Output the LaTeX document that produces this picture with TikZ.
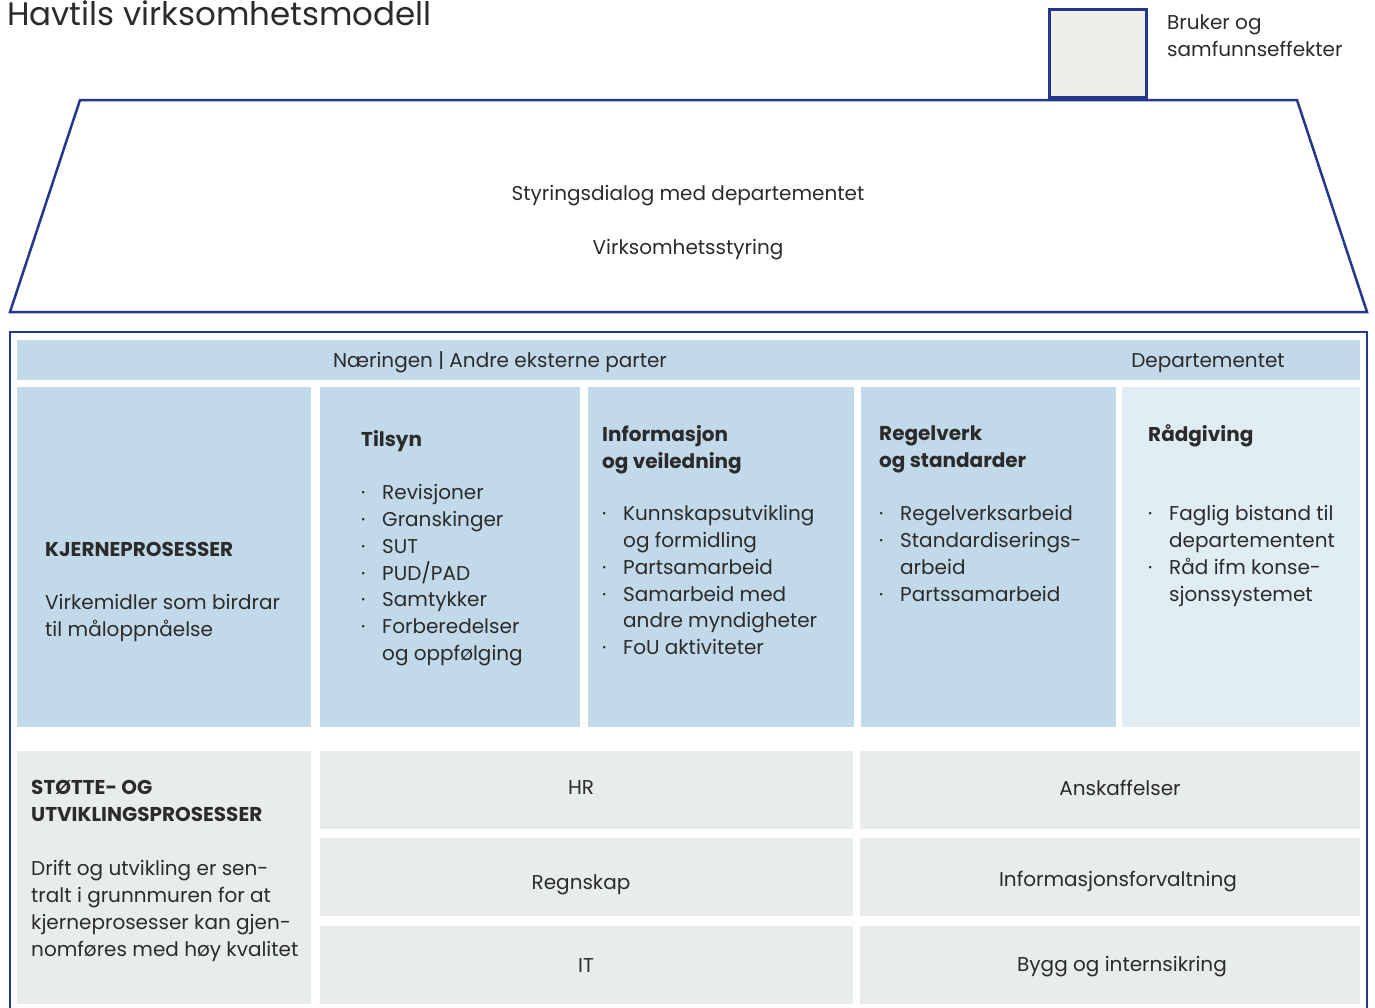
\documentclass[tikz,border=0pt]{standalone}
\usepackage{fontspec}
\setmainfont{Poppins}
\definecolor{navy}{RGB}{35,56,140}
\definecolor{ink}{RGB}{43,43,43}
\definecolor{coreblue}{RGB}{193,217,232}
\definecolor{paleblue}{RGB}{225,237,245}
\definecolor{supgray}{RGB}{232,236,237}
\definecolor{pipegray}{RGB}{239,238,234}
\newcommand{\blt}{\makebox[21pt][l]{·}}
\newcommand{\ind}{\hspace*{21pt}}
\begin{document}
\begin{tikzpicture}[x=1pt,y=-1pt,
  every node/.style={text=ink,font=\fontsize{20}{26.8}\selectfont,inner sep=0pt},
  cell/.style={rectangle,inner sep=0pt,outer sep=0pt},
  txt/.style={anchor=north west,align=left,yshift=14.8pt,execute at begin node=\strut},
  head/.style={txt,font=\fontsize{20}{26.8}\selectfont\bfseries}]
  \useasboundingbox (0,0) rectangle (1375,1007);

  % title and chimney
  \node (title) at (7,25) [anchor=base west,font=\fontsize{32.5}{36}\selectfont] {Havtils virksomhetsmodell};
  \draw[navy,line width=2.5pt,line join=miter] (80,100) -- (1297,100) -- (1367,312) -- (10,312) -- cycle;
  \node (pipe) at (1098,53.5) [cell,draw=navy,fill=pipegray,line width=2.5pt,minimum width=97pt,minimum height=88pt] {};
  \node (effekt) at (1167,29) [txt] {Bruker og\\samfunnseffekter};
  \node (styr1) at (688,200) [anchor=base] {Styringsdialog med departementet};
  \node (styr2) at (688,254) [anchor=base] {Virksomhetsstyring};

  % house frame
  \draw[navy,line width=2.5pt] (10,1015) -- (10,332) -- (1367,332) -- (1367,1015);

  % top band
  \node (band) at (688.5,360) [cell,fill=coreblue,minimum width=1343pt,minimum height=40pt] {};
  \node (ext) at (500,367) [anchor=base] {Næringen | Andre eksterne parter};
  \node (dep) at (1208,367) [anchor=base] {Departementet};

  % core processes
  \node (kjerne) at (164,557) [cell,fill=coreblue,minimum width=294pt,minimum height=340pt] {};
  \node (tilsyn) at (450,557) [cell,fill=coreblue,minimum width=260pt,minimum height=340pt] {};
  \node (info) at (721,557) [cell,fill=coreblue,minimum width=266pt,minimum height=340pt] {};
  \node (regel) at (988.5,557) [cell,fill=coreblue,minimum width=255pt,minimum height=340pt] {};
  \node (raad) at (1241,557) [cell,fill=paleblue,minimum width=238pt,minimum height=340pt] {};

  \node (kjerneH) at (45,552) [head] {KJERNEPROSESSER};
  \node (kjerneT) at (45,609) [txt] {Virkemidler som birdrar\\til måloppnåelse};

  \node (tilsynH) at (361,442) [head] {Tilsyn};
  \node (tilsynT) at (361,499) [txt] {\blt Revisjoner\\\blt Granskinger\\\blt SUT\\\blt PUD/PAD\\\blt Samtykker\\\blt Forberedelser\\\ind og oppfølging};

  \node (infoH) at (602,440) [head] {Informasjon\\og veiledning};
  \node (infoT) at (602,520) [txt] {\blt Kunnskapsutvikling\\\ind og formidling\\\blt Partsamarbeid\\\blt Samarbeid med\\\ind andre myndigheter\\\blt FoU aktiviteter};

  \node (regelH) at (879,440) [head] {Regelverk\\og standarder};
  \node (regelT) at (879,520) [txt] {\blt Regelverksarbeid\\\blt Standardiserings-\\\ind arbeid\\\blt Partssamarbeid};

  \node (raadH) at (1148,437) [head] {Rådgiving};
  \node (raadT) at (1148,520) [txt] {\blt Faglig bistand til\\\ind departementent\\\blt Råd ifm konse-\\\ind sjonssystemet};

  % support processes
  \node (stotte) at (164,877.5) [cell,fill=supgray,minimum width=294pt,minimum height=253pt] {};
  \node (stotteH) at (31,795) [head] {STØTTE- OG\\UTVIKLINGSPROSESSER};
  \node (stotteT) at (31,875) [txt] {Drift og utvikling er sen-\\tralt i grunnmuren for at\\kjerneprosesser kan gjen-\\nomføres med høy kvalitet};

  \node (hr) at (586.5,790) [cell,fill=supgray,minimum width=533pt,minimum height=78pt] {};
  \node (ansk) at (1110,790) [cell,fill=supgray,minimum width=500pt,minimum height=78pt] {};
  \node (regn) at (586.5,877) [cell,fill=supgray,minimum width=533pt,minimum height=78pt] {};
  \node (infof) at (1110,877) [cell,fill=supgray,minimum width=500pt,minimum height=78pt] {};
  \node (it) at (586.5,965) [cell,fill=supgray,minimum width=533pt,minimum height=78pt] {};
  \node (bygg) at (1110,965) [cell,fill=supgray,minimum width=500pt,minimum height=78pt] {};
  \node (hrT) at (581,788) {HR};
  \node (anskT) at (1120,788) {Anskaffelser};
  \node (regnT) at (581,885) {Regnskap};
  \node (infofT) at (1118,882) {Informasjonsforvaltning};
  \node (itT) at (586,966) {IT};
  \node (byggT) at (1122,967) {Bygg og internsikring};
\end{tikzpicture}
\end{document}
